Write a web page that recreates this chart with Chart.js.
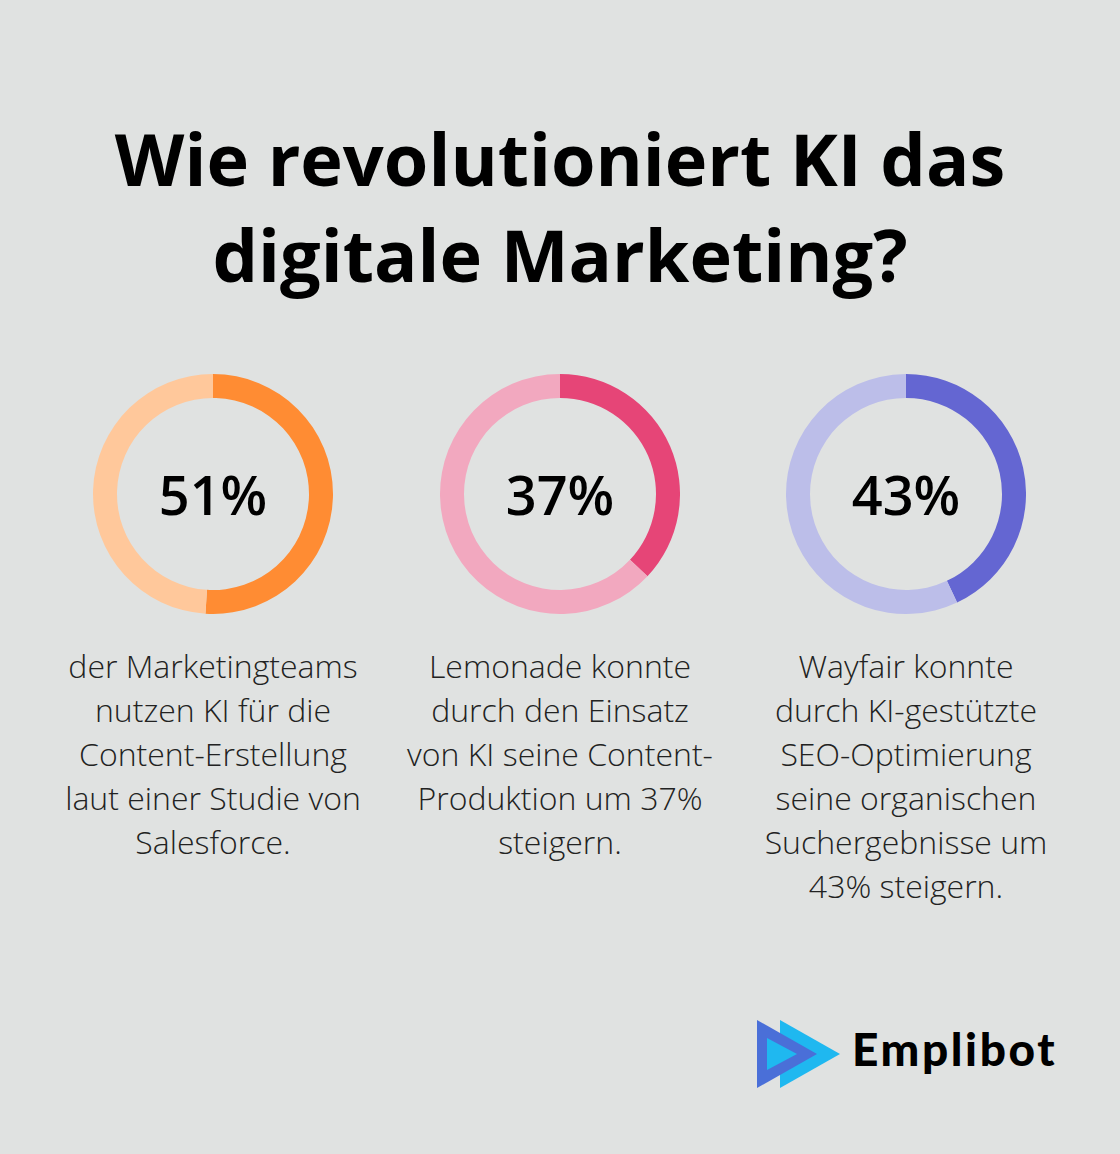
<!DOCTYPE html>
<html><head><meta charset="utf-8">
<script src="https://cdn.jsdelivr.net/npm/chart.js@4/dist/chart.umd.min.js"></script>
<style>
html,body{margin:0;padding:0;background:#e0e2e1;}
body{width:1120px;height:1154px;position:relative;overflow:hidden;font-family:"Open Sans",sans-serif;}
#title{position:absolute;left:0;top:110px;width:1120px;text-align:center;font-weight:700;font-size:72px;line-height:96px;color:#000;}
.box{position:absolute;top:374px;width:240px;height:240px;}
.pct{position:absolute;left:0;top:0;width:240px;height:240px;line-height:240px;text-align:center;font-size:54px;font-weight:600;color:#000;}
.desc{position:absolute;top:644px;width:360px;text-align:center;font-size:32px;font-weight:300;line-height:44px;color:#222;}
#logo{position:absolute;left:756px;top:1018px;}
#logotext{position:absolute;left:852px;top:1021px;font-family:"Lato",sans-serif;font-weight:900;font-size:46px;color:#000;letter-spacing:2.6px;}
</style></head><body>
<div id="title">Wie revolutioniert KI das<br>digitale Marketing?</div>
<div id="charts"></div>
<svg id="logo" width="90" height="72" viewBox="0 0 90 72">
<polygon points="24,2 84,36 24,70" fill="#1fb8f0"/>
<polygon points="1,2 61,36 1,70" fill="#4a6fd8"/>
<polygon points="11,20 41,36 11,52" fill="#1fb8f0"/>
</svg>
<div id="logotext">Emplibot</div>
<script>
const categories = ["Marketingteams (Salesforce)", "Lemonade", "Wayfair"];
const values = [51, 37, 43];
const darkColors = ["#ff8c33", "#e64577", "#6466d2"];
const lightColors = ["#ffc89b", "#f2a8bf", "#bcbee9"];
const descriptions = [
 "der Marketingteams<br>nutzen KI für die<br>Content-Erstellung<br>laut einer Studie von<br>Salesforce.",
 "Lemonade konnte<br>durch den Einsatz<br>von KI seine Content-<br>Produktion um 37%<br>steigern.",
 "Wayfair konnte<br>durch KI-gestützte<br>SEO-Optimierung<br>seine organischen<br>Suchergebnisse um<br>43% steigern."
];
const centersX = [213, 560, 906];
const wrap = document.getElementById('charts');
values.forEach((v, i) => {
  const box = document.createElement('div');
  box.className = 'box';
  box.style.left = (centersX[i] - 120) + 'px';
  const c = document.createElement('canvas');
  c.width = 240; c.height = 240;
  box.appendChild(c);
  const p = document.createElement('div');
  p.className = 'pct';
  p.textContent = v + '%';
  box.appendChild(p);
  wrap.appendChild(box);
  const d = document.createElement('div');
  d.className = 'desc';
  d.style.left = (centersX[i] - 180) + 'px';
  d.innerHTML = descriptions[i];
  wrap.appendChild(d);
  new Chart(c, {
    type: 'doughnut',
    data: {
      labels: [categories[i], 'Rest'],
      datasets: [{data: [v, 100 - v], backgroundColor: [darkColors[i], lightColors[i]], borderWidth: 0}]
    },
    options: {
      responsive: false, animation: false, cutout: '80%',
      plugins: {legend: {display: false}, tooltip: {enabled: false}},
      layout: {padding: 0}
    }
  });
});
</script>
</body></html>
